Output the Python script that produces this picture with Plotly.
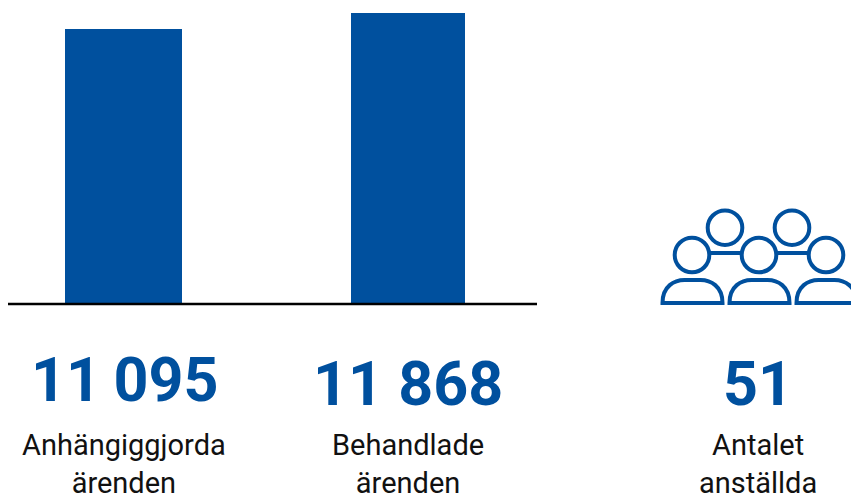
import plotly.graph_objects as go

categories = ["Anhängiggjorda<br>ärenden", "Behandlade<br>ärenden", "Antalet<br>anställda"]
value_labels = ["11\u2009095", "11 868", "51"]
bar_values = [11095, 11868]
bar_base = -2190
blue = "#00509E"
W, H = 851, 495
AXIS_PX = 304
PX_PER_UNIT = 16 / (bar_values[1] - bar_values[0])

bar_x = [123.5, 408]
bar_w = [117, 114]
label_x = [124, 407.5, 757.5]
value_y = [379.5, 383.5, 383.5]
name_y = [464, 464, 464]

ylo = bar_base - (H - AXIS_PX) / PX_PER_UNIT
yhi = bar_base + AXIS_PX / PX_PER_UNIT

fig = go.Figure(go.Bar(x=bar_x, y=[v - bar_base for v in bar_values], base=bar_base, width=bar_w,
                       marker=dict(color=blue, line_width=0), hoverinfo="skip"))

shapes = [dict(type="line", xref="x", yref="paper", x0=8, x1=537,
               y0=1 - AXIS_PX / H, y1=1 - AXIS_PX / H, line=dict(color="#000000", width=2.5))]

def px(x, y):
    return f"{x},{1 - y / H}"

# people icon, drawn in pixel-based paper coordinates
STROKE = 4
def circle(cx, cy, r=17.3):
    return dict(type="circle", xref="x", yref="paper", x0=cx - r, x1=cx + r,
                y0=1 - (cy + r) / H, y1=1 - (cy - r) / H,
                line=dict(color=blue, width=STROKE), fillcolor="rgba(0,0,0,0)")
for cx, cy in [(725, 227.7), (792, 227.7), (692, 255), (759, 255), (826, 255)]:
    shapes.append(circle(cx, cy))
for x0, x1 in [(709, 742), (776, 809)]:
    shapes.append(dict(type="line", xref="x", yref="paper", x0=x0, x1=x1,
                       y0=1 - 253 / H, y1=1 - 253 / H, line=dict(color=blue, width=STROKE)))
for x0 in [662.5, 729.5, 796.5]:
    w = 60
    x1 = x0 + w
    base, top = 303, 280
    path = (f"M {px(x0, base)} C {px(x0, top + 6)} {px(x0 + 12, top)} {px(x0 + 22, top)} "
            f"L {px(x1 - 22, top)} C {px(x1 - 12, top)} {px(x1, top + 6)} {px(x1, base)} Z")
    shapes.append(dict(type="path", xref="x", yref="paper", path=path,
                       line=dict(color=blue, width=STROKE), fillcolor="rgba(0,0,0,0)"))

annotations = []
for x, vy, ny, v, c in zip(label_x, value_y, name_y, value_labels, categories):
    annotations.append(dict(x=x, y=1 - vy / H, xref="x", yref="paper", text=f"<b>{v}</b>", showarrow=False,
                            xanchor="center", yanchor="middle",
                            font=dict(family="Roboto", size=61, color=blue)))
    annotations.append(dict(x=x, y=1 - ny / H, xref="x", yref="paper", text=c, showarrow=False,
                            xanchor="center", yanchor="middle", align="center",
                            font=dict(family="Roboto", size=29, color="#111111")))

fig.update_layout(width=W, height=H, margin=dict(l=0, r=0, t=0, b=0), autosize=False,
                  plot_bgcolor="white", paper_bgcolor="white", showlegend=False,
                  xaxis=dict(range=[0, W], visible=False, domain=[0, 1]),
                  yaxis=dict(range=[ylo, yhi], visible=False, domain=[0, 1]),
                  shapes=shapes, annotations=annotations)
fig.write_html("out.html", config={"displayModeBar": False},
               post_script="document.body.style.margin='0';document.body.style.overflow='hidden';")
